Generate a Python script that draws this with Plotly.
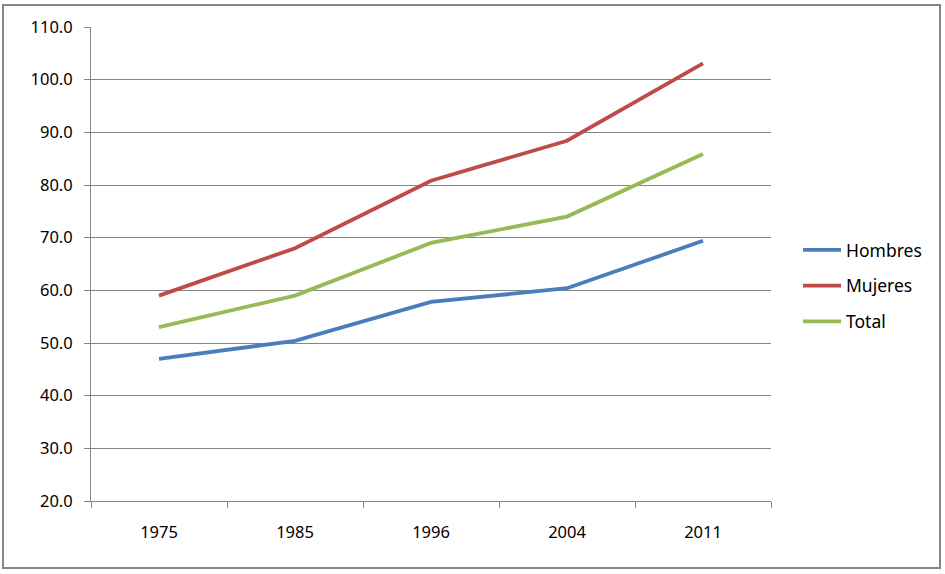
import plotly.graph_objects as go

years = ["1975", "1985", "1996", "2004", "2011"]
hombres = [47.0, 50.4, 57.8, 60.4, 69.4]
mujeres = [59.0, 68.0, 80.8, 88.4, 103.1]
total = [53.0, 59.0, 69.0, 74.0, 85.9]

series = [("Hombres", hombres, "#4A7EBB"), ("Mujeres", mujeres, "#BE4B48"), ("Total", total, "#98B954")]

fig = go.Figure()
for i, (name, vals, col) in enumerate(series):
    fig.add_trace(go.Scatter(x=years, y=vals, name=name, mode="lines",
                             line=dict(color=col, width=3.8), legendgroup=f"g{i}"))

W, H = 945, 574
L, R, T, B = 91, 771, 27, 501
pw, ph = R - L, B - T
fig.update_layout(
    width=W, height=H,
    margin=dict(l=L, r=W - R, t=T, b=H - B, autoexpand=False),
    paper_bgcolor="white", plot_bgcolor="white",
    font=dict(family="Noto Sans, Liberation Sans, Arial", size=16.5, color="black"),
    showlegend=True,
    legend=dict(x=(798 - L) / pw, y=(B - 286) / ph, xanchor="left", yanchor="middle",
                font=dict(size=17.5), tracegroupgap=10, itemwidth=38,
                bgcolor="rgba(0,0,0,0)"),
    xaxis=dict(type="category", range=[-0.5, 4.5], showline=True, linecolor="#868686",
               linewidth=1, ticks="outside", tickson="boundaries", ticklen=6,
               tickcolor="#868686", showgrid=False, ticklabelstandoff=16, fixedrange=True,
               tickfont=dict(size=16.5)),
    yaxis=dict(range=[20, 110], dtick=10, tickformat=".1f", showline=True, linecolor="#868686",
               linewidth=1, ticks="outside", ticklen=6, tickcolor="#868686",
               showgrid=True, gridcolor="#868686", gridwidth=1, zeroline=False, fixedrange=True,
               ticklabelstandoff=8, tickfont=dict(size=16.5)),
    shapes=[dict(type="rect", xref="paper", yref="paper",
                 x0=(3 - L) / pw, x1=(940 - L) / pw, y0=(B - 568) / ph, y1=(B - 5) / ph,
                 line=dict(color="#868686", width=2), fillcolor="rgba(0,0,0,0)")],
)

fig.write_html("out.html", config={"displayModeBar": False},
               post_script="document.body.style.margin='0';document.body.style.overflow='hidden';")
